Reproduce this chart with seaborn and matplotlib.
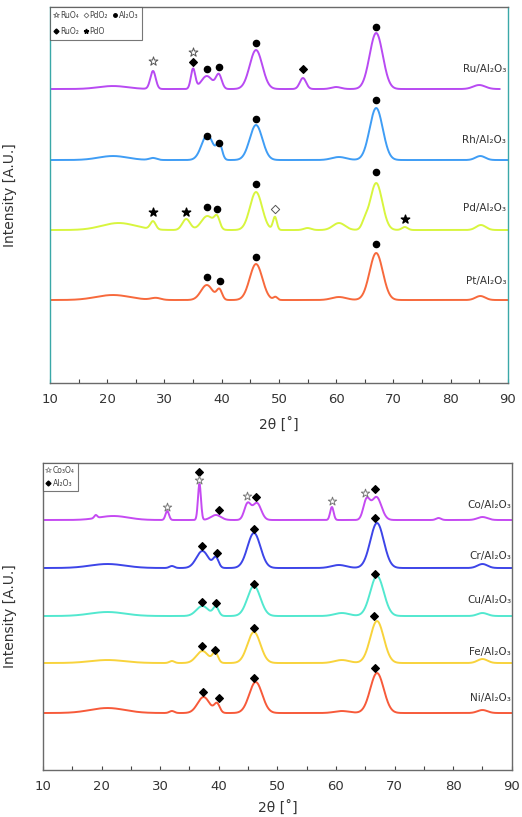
import numpy as np
import pandas as pd
import matplotlib
matplotlib.use("Agg")
import matplotlib.pyplot as plt
from matplotlib.lines import Line2D
import seaborn as sns

# ---------------- data ----------------
# Top panel: noble metals on Al2O3. offsets = baseline level, peaks = (2theta, height, FWHM)
top_samples = ["Ru/Al₂O₃", "Rh/Al₂O₃", "Pd/Al₂O₃", "Pt/Al₂O₃"]
top_offsets = [294, 223, 153, 83]
top_colors = ["#b84af2", "#3f9df5", "#d8f53e", "#f7693c"]
top_xend = [88.6, 90, 90, 90]

ru_pos = [21, 28, 35, 37.4, 39.5, 46, 54.2, 60, 67, 85]
ru_h = [3, 18, 20, 13, 14, 39, 11, 2, 56, 4]
ru_w = [6, 1.1, 0.9, 2.3, 1.2, 2.6, 1.3, 2, 2.7, 2.5]

rh_pos = [21, 28, 37.5, 39.6, 46, 60.5, 67, 85.2]
rh_h = [4, 2, 25, 15, 35, 3, 52, 4]
rh_w = [6, 1.5, 2.4, 1.1, 2.6, 3, 2.7, 2]

pd_pos = [22, 28, 33.8, 37.5, 39.2, 46, 49.3, 55, 60.5, 65, 67, 72, 85.3]
pd_h = [7, 8, 11, 14, 11, 38, 13, 2, 7, 6, 47, 3, 5]
pd_w = [7, 1.1, 1.6, 2.5, 1.1, 2.5, 0.8, 1.5, 2.5, 1.2, 2.5, 1.2, 2]

pt_pos = [21, 28.5, 37.4, 39.6, 46, 49.4, 60.5, 67, 85.2]
pt_h = [5, 2, 15, 10, 36, 3, 3, 47, 4]
pt_w = [7, 2, 2.4, 1.1, 2.6, 0.8, 3, 2.7, 2]

top_peaks = [(ru_pos, ru_h, ru_w), (rh_pos, rh_h, rh_w),
             (pd_pos, pd_h, pd_w), (pt_pos, pt_h, pt_w)]
top_label_y = [314, 243, 175, 102]

# Top panel phase markers: (2theta, level)
al2o3_top_x = [37.5, 39.5, 46, 67, 37.5, 39.5, 46, 67, 37.5, 39.1, 46, 67, 37.5, 39.7, 46, 67]
al2o3_top_y = [314, 316, 340, 356, 247, 240, 264, 283, 176, 174, 199, 211, 106, 102, 126, 139]
ruo2_x = [35, 54.2]
ruo2_y = [321, 314]
ruo4_x = [28, 35]
ruo4_y = [322, 331]
pdo_x = [28, 33.8, 72]
pdo_y = [171, 171, 164]
pdo2_x = [49.3]
pdo2_y = [174]

# Bottom panel: transition metals on Al2O3
bot_samples = ["Co/Al₂O₃", "Cr/Al₂O₃", "Cu/Al₂O₃", "Fe/Al₂O₃", "Ni/Al₂O₃"]
bot_offsets = [250, 202, 154, 107, 57]
bot_colors = ["#c54af2", "#3d45e8", "#52e8cf", "#f8d33c", "#f75a3a"]

co_pos = [19, 22, 31.2, 36.7, 39.5, 44.9, 46.5, 59.3, 65.2, 66.9, 77.5, 85]
co_h = [3, 4, 9, 36, 5, 16, 17, 13, 19, 23, 2, 3]
co_w = [0.6, 6, 0.7, 0.6, 2, 1.3, 1.7, 0.7, 1.3, 2.0, 1, 2]

cr_pos = [21, 32, 37.2, 39.5, 46, 60.5, 67, 85]
cr_h = [4, 2, 17, 10, 35, 3, 45, 4]
cr_w = [7, 1, 2.4, 1.1, 2.6, 3, 2.7, 2]

cu_pos = [21, 37.2, 39.5, 46, 61, 67, 85]
cu_h = [4, 10, 9, 30, 3, 40, 3]
cu_w = [7, 2.4, 1.1, 2.6, 3, 2.7, 2]

fe_pos = [21, 32, 37.2, 39.4, 46, 61, 67, 85]
fe_h = [3, 2, 12, 10, 31, 3, 42, 4]
fe_w = [7, 1, 2.4, 1.1, 2.6, 3, 2.7, 2]

ni_pos = [21, 32, 37.4, 39.7, 46.3, 61, 67, 85]
ni_h = [5, 2, 16, 9, 31, 2, 40, 3]
ni_w = [7, 1, 2.4, 1.1, 2.6, 3, 2.7, 2]

bot_peaks = [(co_pos, co_h, co_w), (cr_pos, cr_h, cr_w), (cu_pos, cu_h, cu_w),
             (fe_pos, fe_h, fe_w), (ni_pos, ni_h, ni_w)]
bot_label_y = [265, 214, 170, 118, 72]

al2o3_bot_x = [36.7, 40, 46.3, 66.7, 37.2, 39.7, 46, 66.7, 37.2, 39.6, 46, 66.7,
               37.2, 39.4, 46, 66.5, 37.3, 40, 46, 66.7]
al2o3_bot_y = [298, 260, 273, 281, 224, 217, 241, 252, 168, 167, 186, 196,
               124, 120, 142, 154, 78, 72, 92, 102]
co3o4_x = [31.2, 36.7, 44.8, 59.4, 65]
co3o4_y = [263, 290, 274, 269, 277]

xticks = [10, 20, 30, 40, 50, 60, 70, 80, 90]

# ---------------- build profiles ----------------
def profile(x, pos, h, w, off):
    y = np.full_like(x, float(off))
    for p, hh, ww in zip(pos, h, w):
        s = ww / 2.3548
        y += hh * np.exp(-0.5 * ((x - p) / s) ** 2)
    return y

rows = []
for name, off, (p, h, w), xe in zip(top_samples, top_offsets, top_peaks, top_xend):
    x = np.linspace(10, xe, 1200)
    for xi, yi in zip(x, profile(x, p, h, w, off)):
        rows.append((name, xi, yi))
df_top = pd.DataFrame(rows, columns=["sample", "x", "y"])

rows = []
for name, off, (p, h, w) in zip(bot_samples, bot_offsets, bot_peaks):
    x = np.linspace(10, 90, 1200)
    for xi, yi in zip(x, profile(x, p, h, w, off)):
        rows.append((name, xi, yi))
df_bot = pd.DataFrame(rows, columns=["sample", "x", "y"])

# ---------------- plotting ----------------
sns.set_theme(style="white")
plt.rcParams["font.family"] = ["DejaVu Sans"]

fig = plt.figure(figsize=(5.22, 8.17), dpi=100)
ax1 = fig.add_axes([0.0958, 0.5312, 0.877, 0.4602])
ax2 = fig.add_axes([0.0824, 0.0575, 0.898, 0.3758])

sns.lineplot(data=df_top, x="x", y="y", hue="sample", palette=top_colors,
             hue_order=top_samples, ax=ax1, legend=False, linewidth=1.4,
             estimator=None, sort=False)
sns.lineplot(data=df_bot, x="x", y="y", hue="sample", palette=bot_colors,
             hue_order=bot_samples, ax=ax2, legend=False, linewidth=1.4,
             estimator=None, sort=False)

ax1.set_ylim(0, 376)
ax2.set_ylim(0, 307)

for ax in (ax1, ax2):
    ax.set_xlim(10, 90)
    ax.set_xticks(xticks)
    ax.set_xticks([15, 25, 35, 45, 55, 65, 75, 85], minor=True)
    ax.set_yticks([])
    ax.tick_params(axis="x", which="both", direction="in", bottom=True,
                   length=3, width=0.8, color="#444444", labelsize=9.5,
                   labelcolor="#333333", pad=7)
    ax.set_ylabel("Intensity [A.U.]", fontsize=10, color="#333333")
    for s in ax.spines.values():
        s.set_color("#6a6a6a")
        s.set_linewidth(1.0)

ax1.set_xlabel("2θ [˚]", fontsize=10, color="#333333", labelpad=9)
ax2.set_xlabel("2θ [˚]", fontsize=10, color="#333333", labelpad=6)
ax1.spines["left"].set_color("#3aa8a8")
ax1.spines["right"].set_color("#3aa8a8")
ax1.yaxis.set_label_coords(-0.072, 0.5)
ax2.yaxis.set_label_coords(-0.056, 0.5)

# sample labels
for name, ly in zip(top_samples, top_label_y):
    ax1.text(89.7, ly, name, ha="right", va="center", fontsize=7.5, color="#333333")
for name, ly in zip(bot_samples, bot_label_y):
    ax2.text(89.9, ly, name, ha="right", va="center", fontsize=7.5, color="#333333")

# markers - top
ax1.scatter(al2o3_top_x, al2o3_top_y, marker="o", s=20, color="black", zorder=5)
ax1.scatter(ruo2_x, ruo2_y, marker="D", s=15, color="black", zorder=5)
ax1.scatter(ruo4_x, ruo4_y, marker="*", s=45, facecolor="white",
            edgecolor="#555555", linewidth=0.7, zorder=5)
ax1.scatter(pdo_x, pdo_y, marker="*", s=40, color="black", zorder=5)
ax1.scatter(pdo2_x, pdo2_y, marker="D", s=18, facecolor="white",
            edgecolor="#555555", linewidth=0.7, zorder=5)

# markers - bottom
ax2.scatter(al2o3_bot_x, al2o3_bot_y, marker="D", s=15, color="black", zorder=5)
ax2.scatter(co3o4_x, co3o4_y, marker="*", s=40, facecolor="white",
            edgecolor="#777777", linewidth=0.7, zorder=5)

# legends
h_ruo4 = Line2D([], [], ls="none", marker="*", ms=4, mfc="white", mec="#555555", mew=0.5)
h_ruo2 = Line2D([], [], ls="none", marker="D", ms=2.5, color="black")
h_pdo2 = Line2D([], [], ls="none", marker="D", ms=2.5, mfc="white", mec="#555555", mew=0.5)
h_pdo = Line2D([], [], ls="none", marker="*", ms=3.5, color="black")
h_al = Line2D([], [], ls="none", marker="o", ms=2.5, color="black")
leg1 = ax1.legend([h_ruo4, h_ruo2, h_pdo2, h_pdo, h_al],
                  ["RuO₄", "RuO₂", "PdO₂", "PdO", "Al₂O₃"],
                  ncol=3, loc="upper left", fontsize=5.5, frameon=True,
                  fancybox=False, edgecolor="#555555", borderaxespad=0,
                  handlelength=0.6, handletextpad=0.2, columnspacing=0.6,
                  borderpad=0.5, labelspacing=0.9)
leg1.get_frame().set_linewidth(0.8)
for t in leg1.get_texts():
    t.set_color("#444444")

h_co = Line2D([], [], ls="none", marker="*", ms=4, mfc="white", mec="#777777", mew=0.5)
h_al2 = Line2D([], [], ls="none", marker="D", ms=2.5, color="black")
leg2 = ax2.legend([h_co, h_al2], ["Co₃O₄", "Al₂O₃"], ncol=1, loc="upper left",
                  fontsize=5.5, frameon=True, fancybox=False, edgecolor="#555555",
                  borderaxespad=0, handlelength=0.6, handletextpad=0.3,
                  borderpad=0.4, labelspacing=0.5)
leg2.get_frame().set_linewidth(0.8)
for t in leg2.get_texts():
    t.set_color("#444444")

fig.savefig("out.png", dpi=100)
